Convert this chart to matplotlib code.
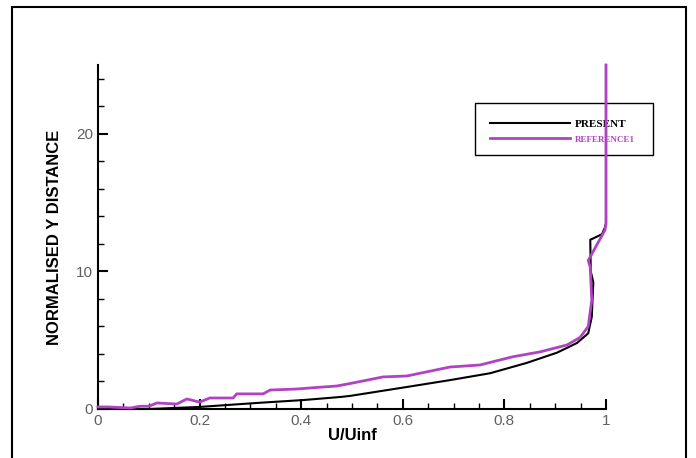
import matplotlib
matplotlib.use("Agg")
import matplotlib.pyplot as plt
from matplotlib.patches import Rectangle
from matplotlib.ticker import MultipleLocator, FuncFormatter

# PRESENT (black) profile: U/Uinf vs normalised y
present_u = [0.0, 0.10, 0.20, 0.313, 0.404, 0.476, 0.496, 0.608, 0.693, 0.772,
             0.844, 0.904, 0.943, 0.965, 0.972, 0.975, 0.970, 0.969, 0.975,
             0.992, 0.998, 1.0, 1.0]
present_y = [0.0, 0.0, 0.15, 0.44, 0.65, 0.87, 0.95, 1.6, 2.1, 2.6,
             3.35, 4.1, 4.8, 5.5, 6.7, 9.2, 10.0, 12.3, 12.4,
             12.7, 13.2, 13.5, 25.0]

# REFERENCE1 (magenta) profile
ref_u = [0.0, 0.02, 0.063, 0.083, 0.10, 0.116, 0.155, 0.175, 0.20, 0.22,
         0.266, 0.273, 0.325, 0.339, 0.39, 0.443, 0.47, 0.496, 0.53, 0.561,
         0.608, 0.634, 0.693, 0.752, 0.817, 0.870, 0.923, 0.949, 0.965,
         0.972, 0.969, 0.965, 0.998, 1.0, 1.0]
ref_y = [0.15, 0.15, 0.07, 0.2, 0.2, 0.44, 0.36, 0.73, 0.5, 0.8,
         0.8, 1.1, 1.1, 1.38, 1.45, 1.6, 1.67, 1.85, 2.1, 2.33,
         2.4, 2.6, 3.05, 3.2, 3.8, 4.15, 4.65, 5.2, 6.0,
         7.9, 10.3, 10.8, 13.0, 13.5, 25.0]

BLACK = "#000000"
MAGENTA = "#b043c2"
TICK = "#606060"

plt.rcParams["font.family"] = ["Liberation Sans", "DejaVu Sans"]

fig = plt.figure(figsize=(6.96, 4.58), dpi=100)
fig.patches.append(Rectangle((12 / 696, -0.01), 674 / 696, 1 - 7 / 458 + 0.01,
                             transform=fig.transFigure, fill=False,
                             edgecolor="black", lw=1.5))

ax = fig.add_axes([98 / 696, 1 - 409 / 458, 508 / 696, 344 / 458])
ax.plot(present_u, present_y, color=BLACK, lw=1.5, label="PRESENT", zorder=3,
        clip_on=False)
ax.plot(ref_u, ref_y, color=MAGENTA, lw=2.0, label="REFERENCE1", zorder=4,
        clip_on=False)

ax.set_xlim(0, 1)
ax.set_ylim(0, 25)
ax.spines[["top", "right"]].set_visible(False)
ax.spines[["left", "bottom"]].set_linewidth(1.5)
ax.xaxis.set_major_locator(MultipleLocator(0.2))
ax.xaxis.set_minor_locator(MultipleLocator(0.05))
ax.yaxis.set_major_locator(MultipleLocator(10))
ax.yaxis.set_minor_locator(MultipleLocator(2))
ax.xaxis.set_major_formatter(FuncFormatter(lambda v, p: f"{v:g}"))
ax.tick_params(which="both", direction="in", colors="black", labelcolor=TICK,
               labelsize=11)
ax.tick_params(which="major", length=7, width=1.5)
ax.tick_params(which="minor", length=4, width=1)

ax.set_xlabel("U/Uinf", fontsize=12, fontweight="bold", labelpad=0)
ax.set_ylabel("NORMALISED Y DISTANCE", fontsize=12, fontweight="bold",
              labelpad=10)

# legend frame drawn separately so it can be wider than its contents
ax.add_patch(Rectangle(((475 - 98) / 508, (409 - 155) / 344), 178 / 508, 52 / 344,
                       transform=ax.transAxes, fill=False, edgecolor="black",
                       lw=1.0, zorder=2, clip_on=False))
leg = ax.legend(loc="upper left", bbox_to_anchor=((490 - 98) / 508, (409 - 119) / 344),
                frameon=False, handlelength=7.2, handletextpad=0.45,
                borderpad=0, borderaxespad=0, labelspacing=0.5,
                prop={"family": "Liberation Serif", "size": 8, "weight": "bold"})
leg.set_zorder(2)
leg.get_texts()[1].set_color(MAGENTA)
leg.get_texts()[1].set_fontsize(6.5)

fig.savefig("out.png", dpi=100)
